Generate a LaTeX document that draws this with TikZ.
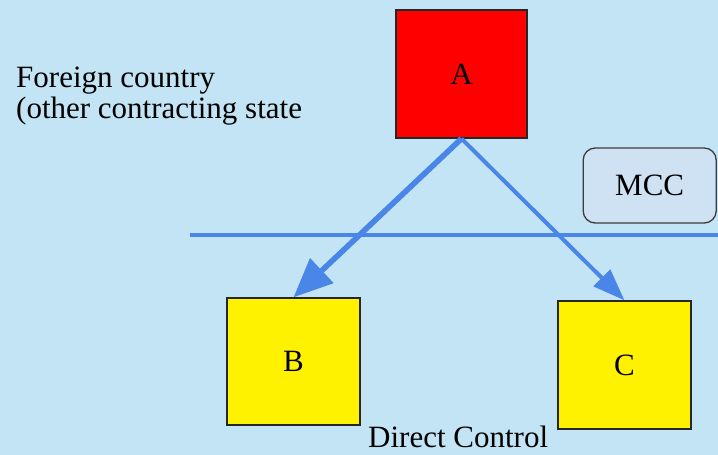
\documentclass[tikz,border=0pt]{standalone}
\usepackage{fontspec}
\setmainfont{Liberation Serif}
\usetikzlibrary{arrows.meta}
\definecolor{bgblue}{RGB}{194,228,244}
\definecolor{lineblue}{RGB}{74,134,232}
\definecolor{mccfill}{RGB}{207,226,243}
\definecolor{mccborder}{RGB}{60,60,60}
\tikzset{
  sq/.style={draw=black!85, line width=1.3pt, minimum width=#1, inner sep=0pt, font=\fontsize{31}{33}\selectfont},
  lbl/.style={font=\fontsize{31}{33}\selectfont, inner sep=0pt},
  bluel/.style={draw=lineblue, line width=3.6pt},
}
\begin{document}
\begin{tikzpicture}[x=1pt,y=-1pt]
\fill[bgblue] (0,0) rectangle (718,455);
\useasboundingbox (0,0) rectangle (718,455);
\node[sq=131pt, minimum height=128pt, fill=red] (A) at (461.5,74) {A};
\node[sq=133pt, minimum height=127pt, fill=yellow] (B) at (293.5,361.5) {B};
\node[sq=133pt, minimum height=128pt, fill=yellow] (C) at (624.5,365) {C};
\node[draw=mccborder, line width=1.3pt, fill=mccfill, rounded corners=12pt, minimum width=133pt, minimum height=75pt, inner sep=0pt, font=\fontsize{31}{33}\selectfont] (M) at (649.7,185.5) {MCC};
\coordinate (hl) at (190,235);
\coordinate (hr) at (718,235);
\draw[bluel] (hl) -- (hr);
\draw[draw=lineblue, line width=5.6pt, -{Triangle[length=39pt,width=33pt]}] (A.south) -- (B.north);
\draw[draw=lineblue, line width=4pt, -{Triangle[length=32pt,width=23pt]}] (A.south) -- (C.north);
\node[lbl, anchor=base west] (f1) at (16,87) {Foreign country};
\node[lbl, anchor=base west] (f2) at (16,118) {(other contracting state};
\node[lbl, anchor=base west] (dc) at (368,447) {Direct Control};
\end{tikzpicture}
\end{document}
